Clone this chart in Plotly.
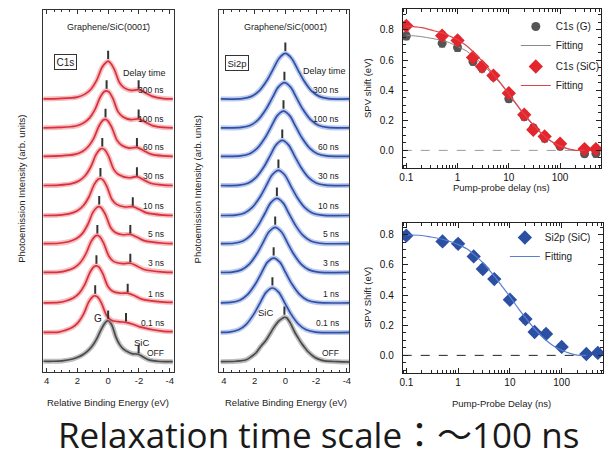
import plotly.graph_objects as go

W, H = 613, 459


def px(x):
    return x / W


def py(y):
    return 1 - y / H


# ---------------------------------------------------------------- data
# stacked spectra, bottom to top
trace_labels = ["OFF", "0.1 ns", "1 ns", "3 ns", "5 ns", "10 ns", "30 ns", "60 ns", "100 ns", "300 ns"]
stack_offset = [0.0, 0.8, 1.6, 2.42, 3.2, 3.96, 4.77, 5.56, 6.33, 7.11]

# C1s: relative binding energy (eV) and intensity (arb. units) of each trace
c1s_energy = [
    [4.2, 3.6, 3.0, 2.3, 1.9, 1.6, 1.25, 0.95, 0.7, 0.5, 0.25, 0.08, -0.05, -0.25, -0.5, -0.75, -1.0, -1.3, -1.6, -1.95, -2.3, -2.7, -3.2, -3.7, -4.2],
    [4.2, 3.2, 2.84, 2.34, 1.94, 1.59, 1.24, 0.99, 0.84, 0.69, 0.44, 0.09, -0.21, -0.66, -1.16, -1.61, -2.06, -3.6, -4.2],
    [4.2, 3.2, 2.76, 2.26, 1.86, 1.51, 1.16, 0.91, 0.76, 0.61, 0.36, 0.01, -0.29, -0.77, -1.27, -1.72, -2.17, -3.6, -4.2],
    [4.2, 3.2, 2.70, 2.20, 1.80, 1.45, 1.10, 0.85, 0.70, 0.55, 0.30, -0.05, -0.35, -0.94, -1.44, -1.89, -2.34, -3.6, -4.2],
    [4.2, 3.2, 2.58, 2.08, 1.68, 1.33, 0.98, 0.73, 0.58, 0.43, 0.18, -0.17, -0.47, -0.94, -1.44, -1.89, -2.34, -3.6, -4.2],
    [4.2, 3.2, 2.50, 2.00, 1.60, 1.25, 0.90, 0.65, 0.50, 0.35, 0.10, -0.25, -0.55, -1.10, -1.60, -2.05, -2.50, -3.6, -4.2],
    [4.2, 3.2, 2.38, 1.88, 1.48, 1.13, 0.78, 0.53, 0.38, 0.23, -0.02, -0.37, -0.67, -1.37, -1.87, -2.32, -2.77, -3.6, -4.2],
    [4.2, 3.2, 2.17, 1.67, 1.27, 0.92, 0.57, 0.32, 0.17, 0.02, -0.23, -0.58, -0.88, -1.37, -1.87, -2.32, -2.77, -3.6, -4.2],
    [4.2, 3.2, 2.10, 1.60, 1.20, 0.85, 0.50, 0.25, 0.10, -0.05, -0.30, -0.65, -0.95, -1.48, -1.98, -2.43, -2.88, -3.6, -4.2],
    [4.2, 3.2, 2.00, 1.50, 1.10, 0.75, 0.40, 0.15, 0.00, -0.15, -0.40, -0.75, -1.05, -1.48, -1.98, -2.43, -2.88, -3.6, -4.2],
]
c1s_intensity = [
    [0.02, 0.02, 0.03, 0.08, 0.14, 0.21, 0.33, 0.48, 0.66, 0.84, 1.03, 1.11, 1.11, 0.99, 0.68, 0.47, 0.35, 0.27, 0.22, 0.21, 0.13, 0.05, 0.02, 0.01, 0.01],
    [0.0, 0.01, 0.05, 0.13, 0.27, 0.50, 0.84, 0.97, 0.99, 0.96, 0.80, 0.45, 0.33, 0.29, 0.27, 0.22, 0.15, 0.03, 0.02],
    [0.0, 0.01, 0.05, 0.13, 0.27, 0.50, 0.84, 0.98, 1.0, 0.97, 0.80, 0.44, 0.31, 0.26, 0.26, 0.19, 0.10, 0.02, 0.01],
    [0.0, 0.01, 0.05, 0.13, 0.27, 0.50, 0.84, 0.98, 1.0, 0.97, 0.80, 0.44, 0.30, 0.24, 0.25, 0.17, 0.08, 0.01, 0.0],
    [0.0, 0.01, 0.05, 0.13, 0.27, 0.51, 0.85, 0.98, 1.0, 0.96, 0.79, 0.43, 0.30, 0.24, 0.25, 0.17, 0.08, 0.01, 0.0],
    [0.0, 0.01, 0.05, 0.13, 0.27, 0.50, 0.84, 0.98, 1.0, 0.97, 0.80, 0.43, 0.30, 0.23, 0.24, 0.16, 0.07, 0.01, 0.0],
    [0.0, 0.01, 0.05, 0.13, 0.27, 0.50, 0.84, 0.98, 1.0, 0.97, 0.80, 0.43, 0.30, 0.21, 0.24, 0.15, 0.06, 0.01, 0.0],
    [0.0, 0.01, 0.05, 0.13, 0.27, 0.50, 0.84, 0.98, 1.0, 0.96, 0.79, 0.43, 0.30, 0.22, 0.24, 0.15, 0.06, 0.01, 0.0],
    [0.0, 0.01, 0.05, 0.13, 0.27, 0.50, 0.84, 0.98, 1.0, 0.97, 0.80, 0.43, 0.30, 0.22, 0.24, 0.15, 0.06, 0.01, 0.0],
    [0.0, 0.01, 0.05, 0.13, 0.27, 0.50, 0.85, 0.98, 1.02, 0.97, 0.80, 0.43, 0.30, 0.23, 0.25, 0.16, 0.07, 0.01, 0.0],
]
# C1s peak positions (eV) and SiC-component level
c1s_g_peak = [0.0, 0.84, 0.76, 0.70, 0.58, 0.50, 0.38, 0.17, 0.10, 0.0]
c1s_sic_peak = [-1.98, -1.16, -1.27, -1.44, -1.44, -1.60, -1.87, -1.87, -1.98, -1.98]
c1s_sic_level = [0.21, 0.27, 0.26, 0.25, 0.25, 0.24, 0.24, 0.24, 0.24, 0.25]

# Si2p spectra
si2p_energy = [
    [4.2, 3.2, 2.55, 2.2, 1.9, 1.6, 1.27, 1.0, 0.74, 0.45, 0.2, 0.05, -0.1, -0.3, -0.63, -0.85, -1.06, -1.3, -1.5, -1.9, -2.2, -2.55, -3.4, -4.2],
    [4.2, 3.64, 3.04, 2.54, 2.04, 1.64, 1.24, 0.84, 0.44, 0.04, -0.36, -0.86, -1.36, -1.96, -4.2],
    [4.2, 3.56, 2.96, 2.46, 1.96, 1.56, 1.16, 0.76, 0.36, -0.04, -0.44, -0.94, -1.44, -2.04, -4.2],
    [4.2, 3.46, 2.86, 2.36, 1.86, 1.46, 1.06, 0.66, 0.26, -0.14, -0.54, -1.04, -1.54, -2.14, -4.2],
    [4.2, 3.35, 2.75, 2.25, 1.75, 1.35, 0.95, 0.55, 0.15, -0.25, -0.65, -1.15, -1.65, -2.25, -4.2],
    [4.2, 3.25, 2.65, 2.15, 1.65, 1.25, 0.85, 0.45, 0.05, -0.35, -0.75, -1.25, -1.75, -2.35, -4.2],
    [4.2, 3.0, 2.4, 1.9, 1.4, 1.0, 0.6, 0.2, -0.2, -0.6, -1.0, -1.5, -2.0, -2.6, -4.2],
    [4.2, 2.92, 2.32, 1.82, 1.32, 0.92, 0.52, 0.12, -0.28, -0.68, -1.08, -1.58, -2.08, -2.68, -4.2],
    [4.2, 2.86, 2.26, 1.76, 1.26, 0.86, 0.46, 0.06, -0.34, -0.74, -1.14, -1.64, -2.14, -2.74, -4.2],
    [4.2, 2.8, 2.2, 1.7, 1.2, 0.8, 0.4, 0.0, -0.4, -0.8, -1.2, -1.7, -2.2, -2.8, -4.2],
]
si2p_intensity = [
    [0.01, 0.02, 0.06, 0.15, 0.25, 0.42, 0.58, 0.76, 0.94, 1.10, 1.18, 1.21, 1.19, 1.07, 0.79, 0.64, 0.50, 0.37, 0.27, 0.13, 0.07, 0.03, 0.01, 0.0],
    [0.0, 0.01, 0.07, 0.22, 0.50, 0.80, 1.09, 1.20, 1.09, 0.80, 0.50, 0.22, 0.07, 0.01, 0.0],
    [0.0, 0.01, 0.07, 0.22, 0.50, 0.80, 1.10, 1.21, 1.10, 0.80, 0.50, 0.22, 0.07, 0.01, 0.0],
    [0.0, 0.01, 0.07, 0.22, 0.50, 0.80, 1.10, 1.22, 1.10, 0.80, 0.50, 0.22, 0.07, 0.01, 0.0],
    [0.0, 0.01, 0.07, 0.22, 0.50, 0.80, 1.10, 1.22, 1.10, 0.80, 0.50, 0.22, 0.07, 0.01, 0.0],
    [0.0, 0.01, 0.07, 0.22, 0.50, 0.80, 1.10, 1.22, 1.10, 0.80, 0.50, 0.22, 0.07, 0.01, 0.0],
    [0.0, 0.01, 0.07, 0.22, 0.50, 0.80, 1.10, 1.22, 1.10, 0.80, 0.50, 0.22, 0.07, 0.01, 0.0],
    [0.0, 0.01, 0.07, 0.22, 0.50, 0.80, 1.10, 1.22, 1.10, 0.80, 0.50, 0.22, 0.07, 0.01, 0.0],
    [0.0, 0.01, 0.07, 0.22, 0.50, 0.80, 1.10, 1.22, 1.10, 0.80, 0.50, 0.22, 0.07, 0.01, 0.0],
    [0.0, 0.01, 0.07, 0.22, 0.50, 0.80, 1.10, 1.23, 1.10, 0.80, 0.50, 0.22, 0.07, 0.01, 0.0],
]
si2p_peak = [0.06, 0.84, 0.76, 0.66, 0.55, 0.45, 0.20, 0.12, 0.06, 0.0]

# SPV shift vs pump-probe delay
delay_ns = [0.1, 0.5, 1, 2, 3, 5, 10, 20, 30, 50, 100, 300, 500]
spv_c1s_g = [0.76, 0.712, 0.683, 0.59, 0.546, 0.49, 0.343, 0.225, 0.149, 0.082, 0.027, -0.022, -0.02]
spv_c1s_sic = [0.827, 0.762, 0.73, 0.617, 0.557, 0.497, 0.38, 0.237, 0.137, 0.093, 0.044, 0.009, 0.009]
spv_si2p = [0.794, 0.756, 0.74, 0.656, 0.573, 0.506, 0.369, 0.241, 0.155, 0.142, 0.056, 0.009, 0.016]
spv_err = [0.025, 0.025, 0.025, 0.022, 0.025, 0.02, 0.022, 0.025, 0.022, 0.025, 0.022, 0.02, 0.025]

fit_t = [0.1, 0.2, 0.3, 0.5, 0.7, 1, 1.5, 2, 3, 5, 7, 10, 15, 20, 30, 50, 70, 100, 150, 200, 300]
fit_c1s_g = [0.765, 0.755, 0.745, 0.73, 0.715, 0.69, 0.66, 0.625, 0.575, 0.495, 0.44, 0.37, 0.29, 0.235, 0.165, 0.09, 0.055, 0.028, 0.008, 0.0, 0.0]
fit_c1s_sic = [0.825, 0.815, 0.80, 0.78, 0.76, 0.735, 0.695, 0.655, 0.595, 0.505, 0.445, 0.375, 0.295, 0.24, 0.17, 0.095, 0.058, 0.03, 0.009, 0.0, 0.0]
fit_si2p = [0.80, 0.795, 0.785, 0.77, 0.755, 0.735, 0.705, 0.67, 0.615, 0.525, 0.46, 0.39, 0.305, 0.25, 0.175, 0.10, 0.062, 0.034, 0.012, 0.002, 0.0]

# ---------------------------------------------------------------- styles
FONT = "Liberation Sans, Arial, sans-serif"
TXT = "#222222"
RED, RED_HALO = "#d8313b", "rgba(238,110,120,0.45)"
BLUE, BLUE_HALO = "#3050a6", "rgba(105,135,215,0.45)"
GREY, GREY_HALO = "#4a4a4a", "rgba(110,110,110,0.45)"

fig = go.Figure()


def add_spectrum(xa, ya, E, I, base, core, halo):
    y = [v + base for v in I]
    for col, w in ((halo, 5), (core, 1.7)):
        fig.add_trace(go.Scatter(
            x=E, y=y, xaxis=xa, yaxis=ya, mode="lines",
            line=dict(color=col, width=w, shape="spline", smoothing=0.9),
            hoverinfo="skip", showlegend=False))


def add_ticks(xa, ya, xs, ys):
    fig.add_trace(go.Scatter(
        x=xs, y=ys, xaxis=xa, yaxis=ya, mode="markers",
        marker=dict(symbol="line-ns-open", size=6, color="#333333",
                    line=dict(color="#333333", width=2)),
        hoverinfo="skip", showlegend=False))


# C1s panel
for k in range(len(trace_labels)):
    core, halo = (GREY, GREY_HALO) if k == 0 else (RED, RED_HALO)
    add_spectrum("x", "y", c1s_energy[k], c1s_intensity[k], stack_offset[k], core, halo)
add_ticks("x", "y", c1s_g_peak,
          [b + max(I) + 0.17 for b, I in zip(stack_offset, c1s_intensity)])
add_ticks("x", "y", c1s_sic_peak,
          [b + s + 0.14 for b, s in zip(stack_offset, c1s_sic_level)])

# Si2p panel
for k in range(len(trace_labels)):
    core, halo = (GREY, GREY_HALO) if k == 0 else (BLUE, BLUE_HALO)
    add_spectrum("x2", "y2", si2p_energy[k], si2p_intensity[k], stack_offset[k], core, halo)
add_ticks("x2", "y2", si2p_peak,
          [b + max(I) + 0.18 for b, I in zip(stack_offset, si2p_intensity)])

# SPV shift, C1s
err = dict(type="data", array=spv_err, thickness=1.2, width=3)
fig.add_trace(go.Scatter(x=delay_ns, y=spv_c1s_g, xaxis="x3", yaxis="y3", mode="markers",
                         name="C1s (G)", legendgroup="g", legend="legend",
                         marker=dict(symbol="circle", size=9, color="#555555"),
                         error_y=dict(err, color="#555555")))
fig.add_trace(go.Scatter(x=fit_t, y=fit_c1s_g, xaxis="x3", yaxis="y3", mode="lines",
                         name="Fitting", legendgroup="g", legend="legend",
                         line=dict(color="#8a8a8a", width=1, shape="spline")))
fig.add_trace(go.Scatter(x=delay_ns, y=spv_c1s_sic, xaxis="x3", yaxis="y3", mode="markers",
                         name="C1s (SiC)", legendgroup="s", legend="legend",
                         marker=dict(symbol="diamond", size=11, color="#e3262e"),
                         error_y=dict(err, color="#e3262e")))
fig.add_trace(go.Scatter(x=fit_t, y=fit_c1s_sic, xaxis="x3", yaxis="y3", mode="lines",
                         name="Fitting", legendgroup="s", legend="legend",
                         line=dict(color="#e0454b", width=1.2, shape="spline")))

# SPV shift, Si2p
fig.add_trace(go.Scatter(x=delay_ns, y=spv_si2p, xaxis="x4", yaxis="y4", mode="markers",
                         name="Si2p (SiC)", legend="legend2",
                         marker=dict(symbol="diamond", size=11, color="#2b4fa3"),
                         error_y=dict(err, color="#2b4fa3")))
fig.add_trace(go.Scatter(x=fit_t, y=fit_si2p, xaxis="x4", yaxis="y4", mode="lines",
                         name="Fitting", legend="legend2",
                         line=dict(color="#5a7fcf", width=1.2, shape="spline")))

# ---------------------------------------------------------------- axes
AX = "#333333"
tickfont = dict(family=FONT, size=9.5, color=TXT)


def spec_x(dom, rng):
    return dict(domain=dom, range=rng, showline=True, linecolor=AX, linewidth=1,
                mirror="allticks", ticks="inside", ticklen=4, tickcolor=AX,
                tickvals=[4, 2, 0, -2, -4], ticktext=["4", "2", "0", "-2", "-4"],
                minor=dict(ticks="inside", ticklen=2, dtick=0.5, tickcolor=AX),
                showgrid=False, zeroline=False, tickfont=tickfont, fixedrange=True)


def spec_y(dom, anchor):
    return dict(domain=dom, range=[-0.27, 9.514], showline=True, linecolor=AX, linewidth=1,
                mirror=True, ticks="", showticklabels=False, showgrid=False,
                zeroline=False, anchor=anchor)


def spv_x(dom, anchor):
    return dict(domain=dom, type="log", range=[-1.07, 2.80], dtick=1, anchor=anchor,
                showline=True, linecolor="#222", linewidth=1, mirror="allticks",
                ticks="inside", ticklen=5, tickcolor="#222",
                minor=dict(ticks="inside", ticklen=3, dtick="D1", tickcolor="#222"),
                showgrid=False, zeroline=False, tickfont=dict(family=FONT, size=10, color="#111"))


def spv_y(dom, rng, anchor):
    return dict(domain=dom, range=rng, dtick=0.2, tick0=0, tickformat=".1f", anchor=anchor,
                showline=True, linecolor="#222", linewidth=1, mirror="allticks",
                ticks="inside", ticklen=5, tickcolor="#222", ticklabelstandoff=6,
                minor=dict(ticks="inside", ticklen=3, dtick=0.05, tickcolor="#222"),
                showgrid=False, zeroline=False, tickfont=dict(family=FONT, size=10, color="#111"))


spec_ydom = [py(372), py(10)]
fig.update_layout(
    xaxis=spec_x([px(40), px(172)], [4.25, -4.25]),
    yaxis=spec_y(spec_ydom, "x"),
    xaxis2=dict(spec_x([px(218), px(349)], [4.3, -4.15]), anchor="y2"),
    yaxis2=spec_y(spec_ydom, "x2"),
    xaxis3=spv_x([px(403), px(603)], "y3"),
    yaxis3=spv_y([py(168), py(9)], [-0.117, 0.939], "x3"),
    xaxis4=spv_x([px(403), px(605)], "y4"),
    yaxis4=spv_y([py(373), py(223)], [-0.117, 0.878], "x4"),
)

# zero reference lines
fig.add_shape(type="line", xref="x3 domain", yref="y3", x0=0, x1=1, y0=0, y1=0,
              line=dict(color="#9a9a9a", width=1, dash="dash"), layer="below")
fig.add_shape(type="line", xref="x4 domain", yref="y4", x0=0, x1=1, y0=0, y1=0,
              line=dict(color="#222", width=1, dash="dash"), layer="below")

# ---------------------------------------------------------------- text
ann = []


def text(x, y, s, size=9.5, angle=0, xanchor="center", **kw):
    ann.append(dict(x=px(x), y=py(y), xref="paper", yref="paper", text=s, showarrow=False,
                    textangle=angle, xanchor=xanchor, yanchor="middle",
                    font=dict(family=FONT, size=size, color=kw.pop("color", TXT)), **kw))


title_str = "Graphene/SiC(000" + "1\u0304" + ")"
text(106, 27, title_str, 9)
text(285, 27, title_str, 9)
text(63, 62, "C1s", 10, bordercolor="#333", borderwidth=1, borderpad=1.5)
text(236, 63, "Si2p", 9.5, bordercolor="#333", borderwidth=1, borderpad=1.5)
text(143, 73, "Delay time", 9)
text(324, 71, "Delay time", 9)
text(96, 318, "G", 10)
text(140, 342, "SiC", 9.5)
text(265, 312, "SiC", 9.5)

for k, lab in enumerate(trace_labels):
    ann.append(dict(x=-3.75, y=stack_offset[k] + 0.25, xref="x", yref="y", text=lab,
                    showarrow=False, xanchor="right", yanchor="middle",
                    font=dict(family=FONT, size=8.5, color=TXT)))
    ann.append(dict(x=-3.6, y=stack_offset[k] + 0.25, xref="x2", yref="y2", text=lab,
                    showarrow=False, xanchor="right", yanchor="middle",
                    font=dict(family=FONT, size=8.5, color=TXT)))

text(106, 402, "Relative Binding Energy (eV)", 9.5)
text(285, 402, "Relative Binding Energy (eV)", 9.5)
text(18, 189, "Photoemission Intensity (arb. units)", 9.5, angle=-90)
text(196, 189, "Photoemission Intensity (arb. units)", 9.5, angle=-90)
text(503, 188, "Pump-probe delay (ns)", 9.5)
text(503, 403, "Pump-Probe Delay (ns)", 9.5)
text(367, 88, "SPV shift (eV)", 9.5, angle=-90)
text(367, 298, "SPV Shift (eV)", 9.5, angle=-90)

ann.append(dict(x=px(318), y=py(434), xref="paper", yref="paper", showarrow=False,
                text="Relaxation time scale\uff1a\uff5e100 ns", xanchor="center", yanchor="middle",
                font=dict(family="Open Sans, Noto Sans CJK JP", size=35, color="#1a1a1a")))

fig.update_layout(
    annotations=ann,
    width=W, height=H, margin=dict(l=0, r=0, t=0, b=0),
    paper_bgcolor="white", plot_bgcolor="rgba(0,0,0,0)",
    showlegend=True,
    legend=dict(x=px(517), y=py(12), xanchor="left", yanchor="top", bgcolor="rgba(0,0,0,0)",
                font=dict(family=FONT, size=10, color=TXT), tracegroupgap=2,
                itemwidth=30, traceorder="grouped"),
    legend2=dict(x=px(506), y=py(223), xanchor="left", yanchor="top", bgcolor="rgba(0,0,0,0)",
                 font=dict(family=FONT, size=10, color=TXT), itemwidth=30),
)

fig.write_html("out.html")
